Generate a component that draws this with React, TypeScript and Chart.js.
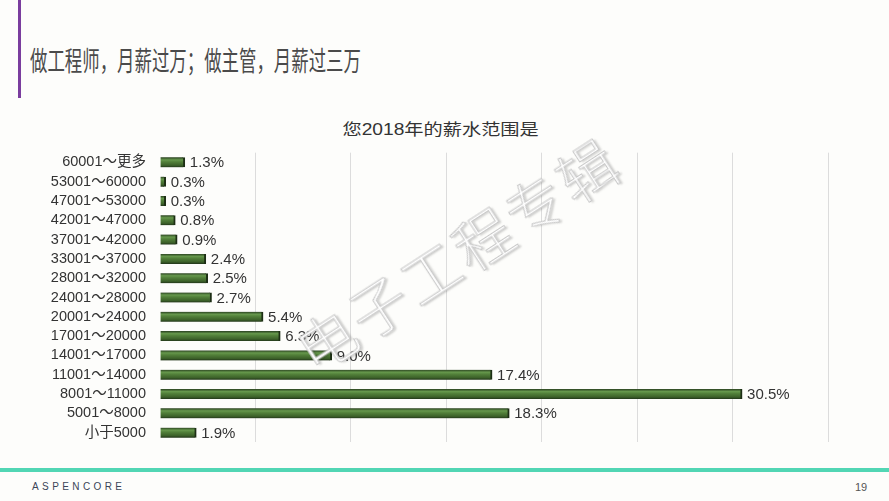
import React, { useEffect, useRef } from "react";
import { Chart, registerables } from "chart.js";

Chart.register(...registerables);

const categories = [
  "60001～更多",
  "53001～60000",
  "47001～53000",
  "42001～47000",
  "37001～42000",
  "33001～37000",
  "28001～32000",
  "24001～28000",
  "20001～24000",
  "17001～20000",
  "14001～17000",
  "11001～14000",
  "8001～11000",
  "5001～8000",
  "小于5000",
];
const shares = [1.3, 0.3, 0.3, 0.8, 0.9, 2.4, 2.5, 2.7, 5.4, 6.3, 9.0, 17.4, 30.5, 18.3, 1.9];
const xMax = 35;
const xStep = 5;

const heading = "做工程师，月薪过万；做主管，月薪过三万";
const chartTitle = "您2018年的薪水范围是";
const watermark = "电子工程专辑";
const brand = "ASPENCORE";
const pageNo = "19";

const FONT = "'Liberation Sans', 'Noto Sans CJK SC', sans-serif";

const valueLabels = {
  id: "valueLabels",
  afterDatasetsDraw(chart: any) {
    const { ctx } = chart;
    const meta = chart.getDatasetMeta(0);
    ctx.save();
    ctx.font = `15px ${FONT}`;
    ctx.fillStyle = "#333333";
    ctx.textAlign = "left";
    ctx.textBaseline = "middle";
    meta.data.forEach((bar: any, i: number) => {
      const v = chart.data.datasets[0].data[i];
      ctx.fillText(v.toFixed(1) + "%", bar.x + 5, bar.y + 1);
    });
    ctx.restore();
  },
};

export default function App() {
  const ref = useRef<HTMLCanvasElement>(null);

  useEffect(() => {
    if (!ref.current) return;
    const chart = new Chart(ref.current, {
      type: "bar",
      data: {
        labels: categories,
        datasets: [
          {
            data: shares,
            barThickness: 10,
            backgroundColor: (c: any) => {
              const ch = c.chart;
              const y = ch.scales && ch.scales.y;
              if (!y || c.dataIndex == null) return "#4a7434";
              const mid = y.getPixelForValue(c.dataIndex);
              if (!isFinite(mid)) return "#4a7434";
              const g = ch.ctx.createLinearGradient(0, mid - 5, 0, mid + 5);
              g.addColorStop(0, "#2a4220");
              g.addColorStop(0.25, "#66984c");
              g.addColorStop(0.45, "#52803a");
              g.addColorStop(0.8, "#3c6129");
              g.addColorStop(1, "#22361a");
              return g;
            },
            borderColor: "#1c2e14",
            borderWidth: { top: 0, right: 2, bottom: 0, left: 0 },
            borderSkipped: "start",
          },
        ],
      },
      options: {
        indexAxis: "y",
        animation: false,
        responsive: true,
        maintainAspectRatio: false,
        layout: { padding: { top: 0, bottom: 0, right: 61, left: 0 } },
        plugins: {
          legend: { display: false },
          tooltip: { enabled: false },
          title: { display: false },
        },
        scales: {
          x: {
            min: 0,
            max: xMax,
            ticks: { display: false, stepSize: xStep },
            border: { display: false },
            grid: {
              drawTicks: false,
              color: (c: any) => (c.tick && c.tick.value === 0 ? "rgba(0,0,0,0)" : "#dcdcdc"),
              lineWidth: 1,
            },
          },
          y: {
            ticks: {
              color: "#333333",
              font: { family: FONT, size: 14.5 },
              padding: 14,
              autoSkip: false,
            },
            border: { display: false },
            grid: { display: false, drawTicks: false },
            afterFit: (s: any) => {
              s.width = 160;
            },
          },
        },
      },
      plugins: [valueLabels],
    } as any);
    return () => chart.destroy();
  }, []);

  return (
    <div
      style={{
        position: "absolute",
        left: 0,
        top: 0,
        width: 889,
        height: 501,
        background: "#fdfdfb",
        overflow: "hidden",
        fontFamily: FONT,
      }}
    >
      <div style={{ position: "absolute", left: 18, top: 0, width: 3, height: 98, background: "#7a3d9e" }} />
      <div
        style={{
          position: "absolute",
          left: 30,
          top: 42,
          fontSize: 27,
          lineHeight: "36px",
          color: "#4a4a4a",
          whiteSpace: "nowrap",
          transform: "scaleX(0.645)",
          transformOrigin: "left center",
          fontFamily: "'Noto Sans CJK SC', sans-serif",
        }}
      >
        {heading}
      </div>
      <div
        style={{
          position: "absolute",
          left: 0,
          width: 889,
          top: 118,
          textAlign: "center",
          fontSize: 16,
          lineHeight: "24px",
          color: "#333333",
          whiteSpace: "nowrap",
          transform: "scaleX(1.2)",
          transformOrigin: "440px center",
        }}
      >
        <span style={{ position: "relative", left: -4 }}>{chartTitle}</span>
      </div>
      <div style={{ position: "absolute", left: 0, top: 130, width: 889, height: 335 }}>
        <canvas ref={ref} />
      </div>
      <div
        style={{
          position: "absolute",
          left: 457,
          top: 253,
          transform: "translate(-50%, -50%) rotate(-33deg)",
          fontSize: 58,
          letterSpacing: 4,
          whiteSpace: "nowrap",
          color: "#ffffff",
          fontFamily: "'Noto Sans CJK SC', sans-serif",
          fontWeight: 300,
          WebkitTextStroke: "1px #c8c8c8",
          textShadow: "2px 2px 2px rgba(0,0,0,0.18)",
          pointerEvents: "none",
        }}
      >
        {watermark}
      </div>
      <div style={{ position: "absolute", left: 0, top: 468, width: 889, height: 4, background: "#52d6b4" }} />
      <div
        style={{
          position: "absolute",
          left: 32,
          top: 480,
          fontSize: 10,
          letterSpacing: 3.4,
          color: "#3b4558",
          fontFamily: "'Liberation Sans', sans-serif",
          lineHeight: "14px",
        }}
      >
        {brand}
      </div>
      <div
        style={{
          position: "absolute",
          left: 855,
          top: 480,
          fontSize: 11,
          color: "#555555",
          lineHeight: "14px",
        }}
      >
        {pageNo}
      </div>
    </div>
  );
}
